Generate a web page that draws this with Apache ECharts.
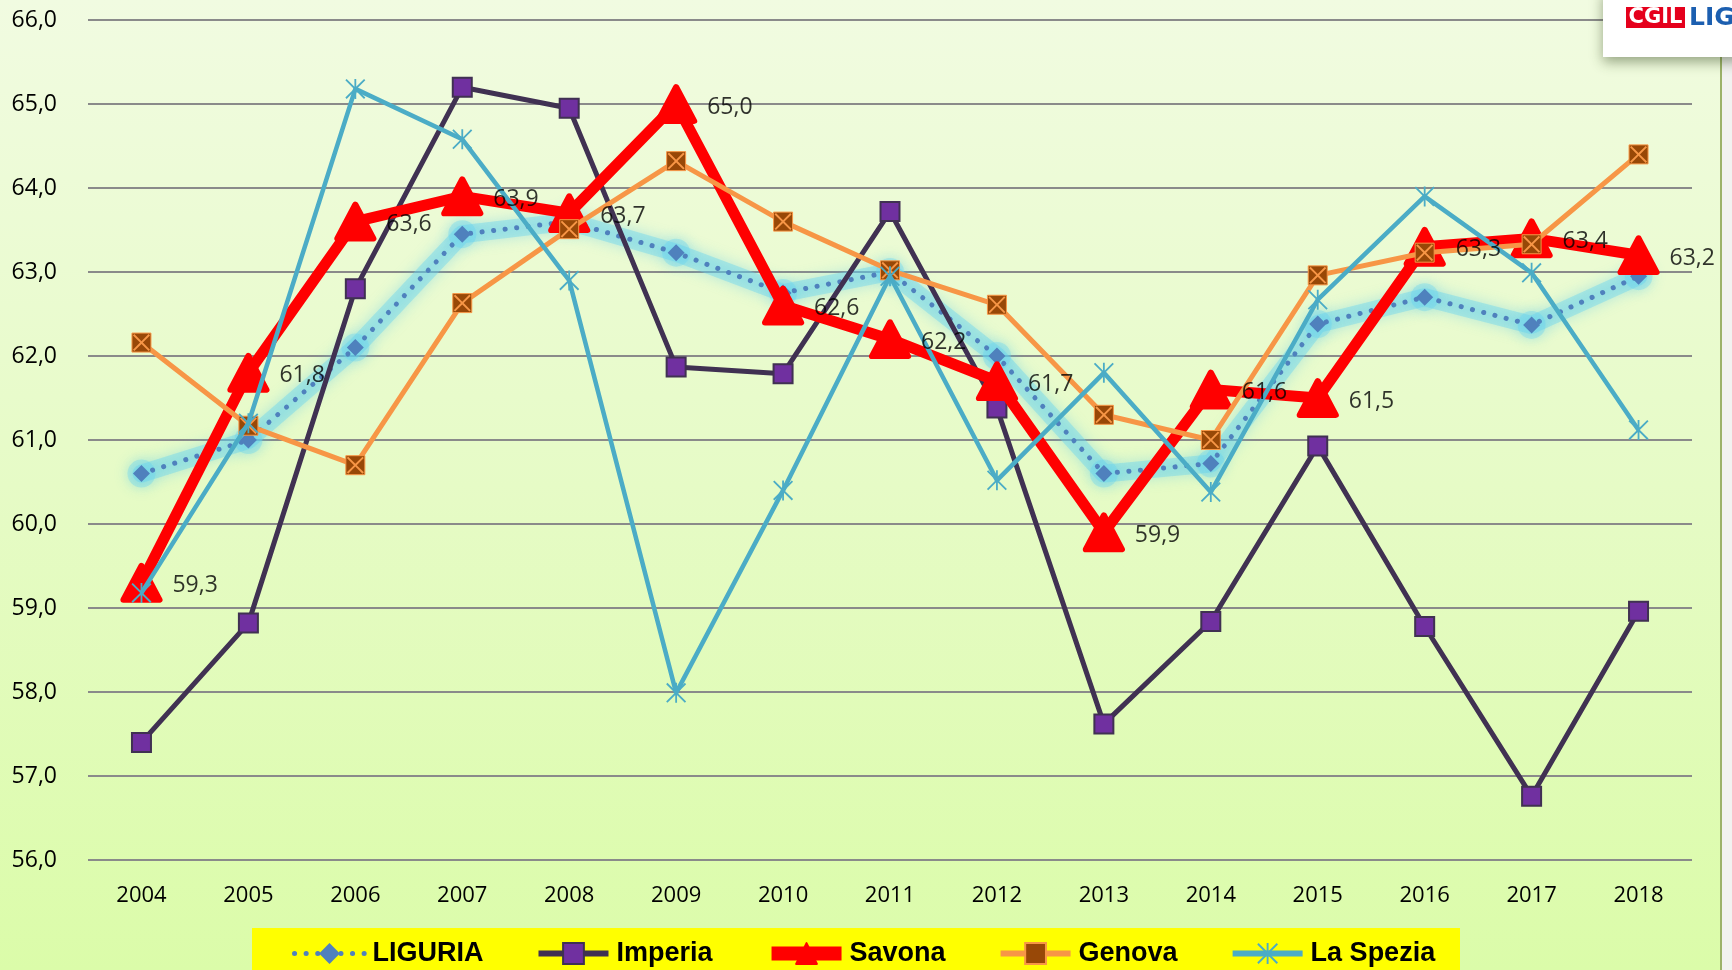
<!DOCTYPE html>
<html>
<head>
<meta charset="utf-8">
<script src="https://cdn.jsdelivr.net/npm/echarts@6/dist/echarts.min.js"></script>
<style>
html,body{margin:0;padding:0;}
#chart{width:1732px;height:970px;background:linear-gradient(#f1fbe1,#e6fbc6 50%,#dbfca9);}
</style>
</head>
<body>
<div id="chart"></div>
<script>
const years = ['2004','2005','2006','2007','2008','2009','2010','2011','2012','2013','2014','2015','2016','2017','2018'];
const yTicks = [56, 57, 58, 59, 60, 61, 62, 63, 64, 65, 66];
const liguria  = [60.6, 61.0, 62.1, 63.45, 63.6, 63.23, 62.75, 63.0, 62.0, 60.6, 60.72, 62.38, 62.7, 62.37, 62.95];
const imperia  = [57.4, 58.82, 62.8, 65.2, 64.95, 61.87, 61.79, 63.72, 61.38, 57.62, 58.84, 60.93, 58.78, 56.76, 58.96];
const savona   = [59.3, 61.8, 63.6, 63.9, 63.7, 65.0, 62.6, 62.2, 61.7, 59.9, 61.6, 61.5, 63.3, 63.4, 63.2];
const genova   = [62.16, 61.17, 60.7, 62.63, 63.51, 64.32, 63.6, 63.02, 62.61, 61.3, 61.0, 62.96, 63.23, 63.33, 64.4];
const laSpezia = [59.18, 61.2, 65.18, 64.58, 62.9, 57.99, 60.4, 62.95, 60.52, 61.8, 60.38, 62.67, 63.9, 62.99, 61.12];

const fmt = v => Number(v).toFixed(1).replace('.', ',');
const FONT = "'Open Sans', sans-serif";
const xPath = 'path://M0,1.6L1.6,0L10,8.4L18.4,0L20,1.6L11.6,10L20,18.4L18.4,20L10,11.6L1.6,20L0,18.4L8.4,10Z';
const starPath = 'path://M9.1,0L10.9,0L10.9,20L9.1,20Z M0,1.3L1.3,0L20,18.7L18.7,20Z M18.7,0L20,1.3L1.3,20L0,18.7Z';

const chart = echarts.init(document.getElementById('chart'));
chart.setOption({
  animation: false,
  grid: { left: 88, right: 40, top: 20, bottom: 110 },
  xAxis: {
    type: 'category', data: years, boundaryGap: true,
    axisLine: { show: false }, axisTick: { show: false },
    axisLabel: { color: '#000', fontFamily: FONT, fontSize: 22, margin: 25 }
  },
  yAxis: {
    type: 'value', min: yTicks[0], max: yTicks[yTicks.length - 1], interval: 1,
    axisLine: { show: false }, axisTick: { show: false },
    axisLabel: { color: '#000', fontFamily: FONT, fontSize: 23, margin: 31, formatter: v => fmt(v) },
    splitLine: { lineStyle: { color: '#8a8a8a', width: 2 } }
  },
  legend: {
    data: [
      { name: 'LIGURIA', lineStyle: { width: 5 } },
      { name: 'Imperia', lineStyle: { width: 6 } },
      { name: 'Savona', lineStyle: { width: 14 } },
      { name: 'Genova', lineStyle: { width: 6 } },
      { name: 'La Spezia', lineStyle: { width: 6 } }
    ],
    left: 292, top: 940, itemWidth: 70, itemHeight: 26, itemGap: 52,
    padding: 0,
    textStyle: { color: '#000', fontFamily: "'Liberation Sans', Arial, sans-serif", fontWeight: 'bold', fontSize: 27, padding: [0, 0, 0, 3] }
  },
  graphic: [
    { type: 'rect', z: -10, shape: { x: 252, y: 928, width: 1208, height: 50 }, style: { fill: '#ffff00' } },
    { type: 'rect', z: 0, shape: { x: 1721, y: 57, width: 11, height: 913 }, style: { fill: '#f2f2f0' } },
    { type: 'line', z: 0, shape: { x1: 1721, y1: 57, x2: 1721, y2: 970 }, style: { stroke: '#9cb26a', lineWidth: 2 } },
    { type: 'rect', z: 100, shape: { x: 1603, y: -10, width: 140, height: 67 },
      style: { fill: '#ffffff', shadowBlur: 12, shadowColor: 'rgba(40,60,20,0.45)', shadowOffsetY: 5 } },
    { type: 'rect', z: 101, shape: { x: 1626, y: 7, width: 59, height: 21 }, style: { fill: '#e5001c' } },
    { type: 'text', z: 102, x: 1655.5, y: 17.5,
      style: { text: 'CGIL', fill: '#ffffff', font: "bold 21px 'DejaVu Sans', sans-serif", align: 'center', verticalAlign: 'middle' } },
    { type: 'text', z: 102, x: 1689, y: 18,
      style: { text: 'LIGURIA', fill: '#1c5fb0', font: "bold 25px 'DejaVu Sans', sans-serif", align: 'left', verticalAlign: 'middle' } }
  ],
  series: [
    {
      name: 'glow', type: 'line', data: liguria, silent: true, z: 1,
      symbol: 'circle', symbolSize: 28,
      itemStyle: { color: 'rgba(100,210,240,0.35)', shadowBlur: 14, shadowColor: 'rgba(80,200,235,0.9)' },
      lineStyle: { color: 'rgba(100,210,240,0.4)', width: 18, shadowBlur: 14, shadowColor: 'rgba(80,200,235,0.9)', cap: 'round', join: 'round' }
    },
    {
      name: 'LIGURIA', type: 'line', data: liguria, z: 2,
      symbol: 'diamond', symbolSize: 17,
      itemStyle: { color: '#4f81bd' },
      lineStyle: { color: '#4f81bd', width: 5, type: [0.1, 11.5], cap: 'round' }
    },
    {
      name: 'Imperia', type: 'line', data: imperia, z: 3,
      symbol: 'rect', symbolSize: 19,
      itemStyle: { color: '#7030a0', borderColor: '#403152', borderWidth: 2 },
      lineStyle: { color: '#403152', width: 5 }
    },
    {
      name: 'Savona', type: 'line', data: savona, z: 4,
      symbol: 'triangle', symbolSize: [36, 34],
      itemStyle: { color: '#ff0000', borderColor: '#ff0000', borderWidth: 6, borderJoin: 'round' },
      lineStyle: { color: '#ff0000', width: 11, join: 'round' }
    },
    {
      name: 'Genova', type: 'line', data: genova, z: 5,
      symbol: 'rect', symbolSize: 19,
      itemStyle: { color: '#984807', borderColor: '#f79646', borderWidth: 1 },
      lineStyle: { color: '#f79646', width: 5 }
    },
    {
      name: 'genovaX', type: 'scatter', data: genova, z: 5, silent: true,
      symbol: xPath, symbolSize: 17,
      itemStyle: { color: '#f79646', opacity: 1 }
    },
    {
      name: 'La Spezia', type: 'line', data: laSpezia, z: 6,
      symbol: starPath, symbolSize: 20,
      itemStyle: { color: '#4bacc6' },
      lineStyle: { color: '#4bacc6', width: 4.5 }
    },
    {
      name: 'savonaLabels', type: 'scatter', data: savona, z: 20, silent: true,
      symbol: 'rect', symbolSize: 42,
      itemStyle: { color: 'rgba(0,0,0,0)' },
      label: { show: true, position: 'right', distance: 10, offset: [0, 3], color: '#000',
               fontFamily: FONT, fontSize: 23, formatter: p => fmt(p.value[1] !== undefined ? p.value[1] : p.value) }
    }
  ]
});
</script>
</body>
</html>
